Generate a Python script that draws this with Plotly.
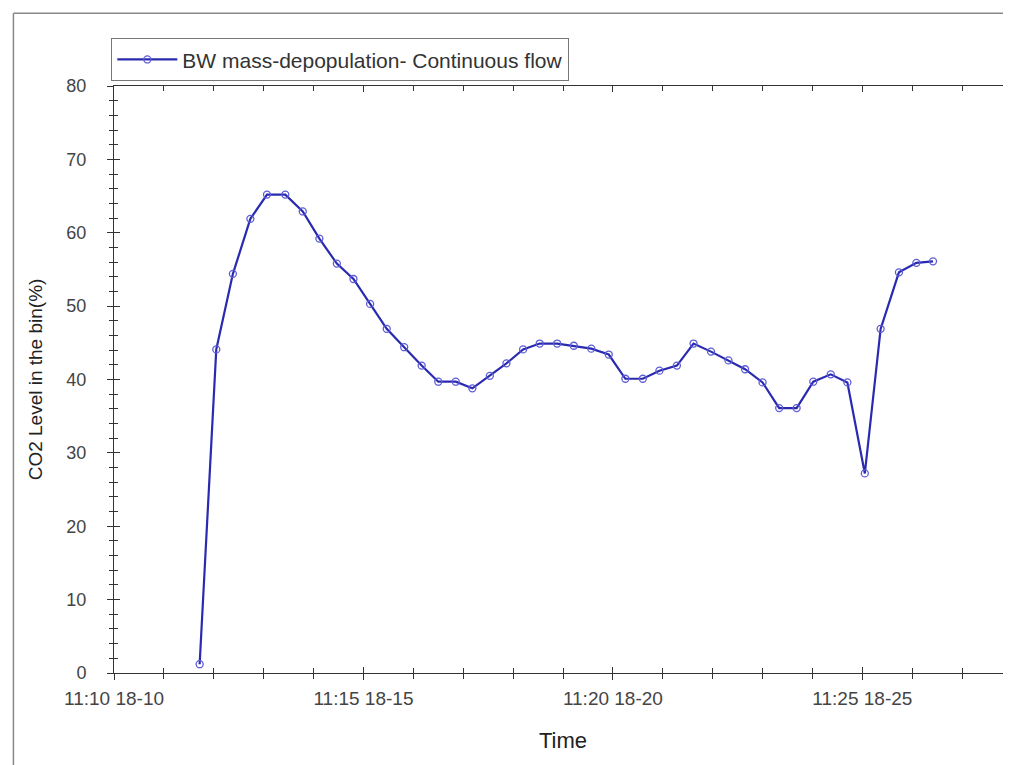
import plotly.graph_objects as go

times = ["11:11:43", "11:12:03", "11:12:23", "11:12:44", "11:13:04", "11:13:26",
         "11:13:47", "11:14:07", "11:14:28", "11:14:48", "11:15:08", "11:15:28",
         "11:15:49", "11:16:10", "11:16:30", "11:16:51", "11:17:11", "11:17:32",
         "11:17:52", "11:18:12", "11:18:32", "11:18:53", "11:19:13", "11:19:34",
         "11:19:55", "11:20:15", "11:20:36", "11:20:56", "11:21:17", "11:21:37",
         "11:21:58", "11:22:19", "11:22:39", "11:23:00", "11:23:20", "11:23:41",
         "11:24:01", "11:24:22", "11:24:42", "11:25:03", "11:25:22", "11:25:44",
         "11:26:05", "11:26:25"]
co2 = [1.2, 44.1, 54.4, 61.9, 65.2, 65.2, 62.9, 59.2, 55.8, 53.7, 50.3, 46.9,
       44.4, 41.9, 39.7, 39.7, 38.8, 40.5, 42.2, 44.1, 44.9, 44.9, 44.6, 44.2,
       43.4, 40.1, 40.1, 41.2, 41.9, 44.9, 43.8, 42.6, 41.4, 39.6, 36.1, 36.1,
       39.7, 40.7, 39.6, 27.2, 46.9, 54.6, 55.9, 56.1]
tick_times = ["11:10:00", "11:15:00", "11:20:00", "11:25:00"]
tick_labels = ["11:10 18-10", "11:15 18-15", "11:20 18-20", "11:25 18-25"]
x_range = ["11:10:00", "11:28:00"]
series_name = "BW mass-depopulation- Continuous flow"

DAY = "2000-01-01 "
xs = [DAY + t for t in times]
tv = [DAY + t for t in tick_times]
xr = [DAY + t for t in x_range]

fig = go.Figure()
fig.add_trace(go.Scatter(
    x=xs, y=co2, mode="lines+markers", name=series_name,
    line=dict(color="#2a2ab0", width=2.2),
    marker=dict(symbol="circle-open", size=7, color="#5c5cd6", line=dict(width=1.3)),
))
# invisible trace to host the overlay axes
fig.add_trace(go.Scatter(x=xs[:1], y=co2[:1], xaxis="x2", yaxis="y2",
                         mode="markers", marker=dict(opacity=0), showlegend=False,
                         hoverinfo="skip"))

font_fam = "Liberation Sans, Arial, sans-serif"
fig.update_layout(
    width=1011, height=765,
    paper_bgcolor="white", plot_bgcolor="white",
    margin=dict(l=106, r=7, t=78, b=100, autoexpand=False),
    font=dict(family=font_fam, color="#333333"),
    showlegend=True,
    legend=dict(x=-0.003, y=1.008, xanchor="left", yanchor="bottom",
                bordercolor="#777777", borderwidth=1, bgcolor="white",
                font=dict(size=21, color="#333333"), itemwidth=60,
                tracegroupgap=0),
    xaxis=dict(type="date", range=xr, tickvals=tv, ticktext=tick_labels,
               ticks="outside", ticklen=6, tickcolor="#333", tickwidth=1,
               minor=dict(ticks="outside", ticklen=5, dtick=60000, tick0=tv[0],
                          tickcolor="#333", showgrid=False),
               showline=True, linecolor="#333", linewidth=1, showgrid=False,
               zeroline=False, tickfont=dict(size=19, color="#444"),
               ticklabelstandoff=2,
               title=dict(text="Time", font=dict(size=22, color="#222"), standoff=24)),
    xaxis2=dict(type="date", range=xr, overlaying="x", anchor="y", side="bottom",
                tickvals=tv, showticklabels=False, ticks="inside", ticklen=6,
                tickcolor="#333", mirror="ticks", showline=True, linecolor="#333",
                minor=dict(ticks="inside", ticklen=5, dtick=60000, tick0=tv[0],
                           tickcolor="#333", showgrid=False),
                showgrid=False, zeroline=False),
    yaxis=dict(range=[0, 80], dtick=10, ticks="outside", ticklen=6, tickcolor="#333",
               minor=dict(ticks="outside", ticklen=4, dtick=2, tickcolor="#333",
                          showgrid=False),
               showline=True, linecolor="#333", linewidth=1, showgrid=False,
               zeroline=False, tickfont=dict(size=18, color="#444"),
               ticklabelstandoff=17,
               title=dict(text="CO2 Level in the bin(%)", font=dict(size=19, color="#222"),
                          standoff=18)),
    yaxis2=dict(range=[0, 80], dtick=10, overlaying="y", anchor="x", side="left",
                showticklabels=False, ticks="inside", ticklen=6, tickcolor="#333",
                mirror="ticks", showline=True, linecolor="#333",
                minor=dict(ticks="inside", ticklen=4, dtick=2, tickcolor="#333",
                           showgrid=False),
                showgrid=False, zeroline=False),
)

# outer frame lines (left and top)
fig.add_shape(type="line", xref="paper", yref="paper", x0=-0.112, x1=-0.112,
              y0=-0.2, y1=1.124, line=dict(color="#888888", width=1.5))
fig.add_shape(type="line", xref="paper", yref="paper", x0=-0.112, x1=1.02,
              y0=1.124, y1=1.124, line=dict(color="#888888", width=1.5))

fig.write_html("out.html")
